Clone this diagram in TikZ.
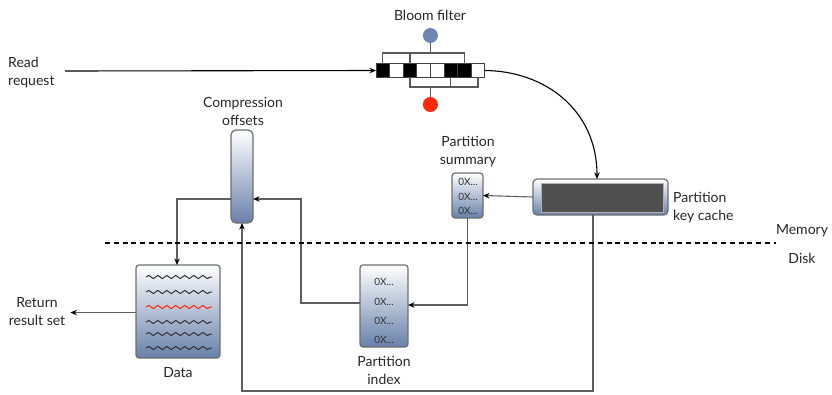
\documentclass[tikz,border=0pt]{standalone}
\usepackage{fontspec}
\setmainfont{Lato}
\usetikzlibrary{arrows.meta,decorations.pathmorphing}
\definecolor{steel}{RGB}{104,128,170}
\definecolor{frame}{RGB}{110,110,110}
\definecolor{wire}{RGB}{95,95,95}
\definecolor{hashblue}{RGB}{111,134,176}
\definecolor{hashred}{RGB}{255,40,10}
\definecolor{cachefill}{RGB}{80,80,80}
\begin{document}
\begin{tikzpicture}[x=1pt,y=-1pt,
  lbl/.style={font=\fontsize{14}{18}\selectfont, align=center, inner sep=0, text=black!85},
  hexval/.style={font=\fontsize{10}{12}\selectfont, inner sep=0, text=black!80},
  box/.style={draw=frame, line width=1.2pt, rounded corners=3pt,
    top color=white, bottom color=steel, inner sep=0, outer sep=0},
  conn/.style={draw=wire, line width=1.1pt},
  arr/.style={conn, -{Stealth[length=6.5pt,width=5.5pt,color=black]}},
  bit/.style={draw=black!75, line width=0.8pt, minimum width=13.6pt,
    minimum height=13.5pt, inner sep=0, outer sep=0},
  on/.style={bit, fill=black},
  off/.style={bit, fill=white},
  hashdot/.style={circle, minimum size=15pt, inner sep=0},
  wave/.style={line width=1pt, decorate,
    decoration={snake, amplitude=1.6pt, segment length=9pt}},
]
\useasboundingbox (0,0) rectangle (832,394);

% ---------- Bloom filter ----------
\node[lbl] (bftitle) at (430,15) {Bloom filter};
\foreach \i/\s in {1/on,2/off,3/on,4/off,5/off,6/on,7/on,8/off}
  \node[\s] (c\i) at ({376+6.8+13.6*(\i-1)},70.5) {};
\node[hashdot, fill=hashblue] (hb) at (430.4,35.5) {};
\node[hashdot, fill=hashred] (hr) at (430.4,104.5) {};
\coordinate (tb) at (430.4,53);
\coordinate (bb) at (430.4,87);
\draw[conn, draw=black!65] (c1.north) -- (c1.north |- tb) -- (c7.north |- tb) -- (c7.north);
\draw[conn, draw=black!65] (c3.north) -- (c3.north |- tb);
\draw[conn, draw=black!65] (hb.south) -- (tb);
\draw[conn, draw=black!65] (c3.south) -- (c3.south |- bb) -- (c8.south |- bb) -- (c8.south);
\draw[conn, draw=black!65] (c6.south) -- (c6.south |- bb);
\draw[conn, draw=black!65] (bb) -- (hr.north);

% ---------- read request ----------
\node[lbl, align=left, anchor=west] (read) at (8,73) {Read\\request};
\coordinate (rstart) at (65,71);
\draw[arr, draw=black] (rstart) -- (c1.west);

% ---------- partition key cache ----------
\node[box, minimum width=135pt, minimum height=36pt, rounded corners=4pt] (cache) at (600.5,197) {};
\node[draw=black!30, line width=0.8pt, fill=cachefill, minimum width=122pt, minimum height=29pt, inner sep=0] (cachein) at (602,197.5) {};
\node[lbl, align=left, anchor=west] (cachelbl) at (673,208) {Partition\\key cache};
\draw[arr, draw=black] (c8.east) .. controls (545,71) and (597,110) .. ([xshift=-3.5pt]cache.north);

% ---------- partition summary ----------
\node[box, minimum width=31pt, minimum height=45pt] (summ) at (467.5,195.5) {};
\node[lbl] (summlbl) at (468,152) {Partition\\summary};
\foreach \k/\y in {1/182,2/197,3/211}
  \node[hexval] (sv\k) at (468,\y) {0X...};
\draw[arr] (cache.west) -- (summ.east);

% ---------- partition index ----------
\node[box, minimum width=48pt, minimum height=82pt] (pidx) at (384,306) {};
\node[lbl] (pidxlbl) at (384,370) {Partition\\index};
\foreach \k/\y in {1/282,2/302,3/321,4/340}
  \node[hexval] (iv\k) at (384,\y) {0X...};
\draw[arr] (summ.south) |- ([yshift=1pt]pidx.east);

% ---------- compression offsets ----------
\node[box, minimum width=22pt, minimum height=93pt, rounded corners=5pt] (comp) at (242,176.5) {};
\node[lbl] (complbl) at (243,111) {Compression\\offsets};
\draw[arr] ([yshift=3pt]pidx.west) -- ++(-59,0) |- ([yshift=-22.5pt]comp.east);
\draw[arr] ([xshift=-7.5pt]cache.south) -- ++(0,176) -| (comp.south);

% ---------- data ----------
\node[box, minimum width=84pt, minimum height=93pt] (data) at (178,311.5) {};
\node[lbl] (datalbl) at (178,373) {Data};
\draw[arr] ([yshift=-22.5pt]comp.west) -| ([xshift=-1pt]data.north);
\foreach \y/\c in {277/black!80,292/black!80,307/hashred,322/black!80,334/black!80,348/black!80}
  \draw[wave, draw=\c] (146,\y) -- (212,\y);

% ---------- result ----------
\node[lbl] (ret) at (37,312) {Return\\result set};
\draw[arr] ([yshift=-1pt]data.west) -- ([xshift=5pt]ret.east |- 0,312.5);

% ---------- memory / disk boundary ----------
\coordinate (ml) at (105,243);
\coordinate (mr) at (776,243);
\draw[line width=2.2pt, dash pattern=on 5pt off 3.8pt] (ml) -- (mr);
\node[lbl] (mem) at (802,231) {Memory};
\node[lbl] (disk) at (802,258) {Disk};
\end{tikzpicture}
\end{document}
